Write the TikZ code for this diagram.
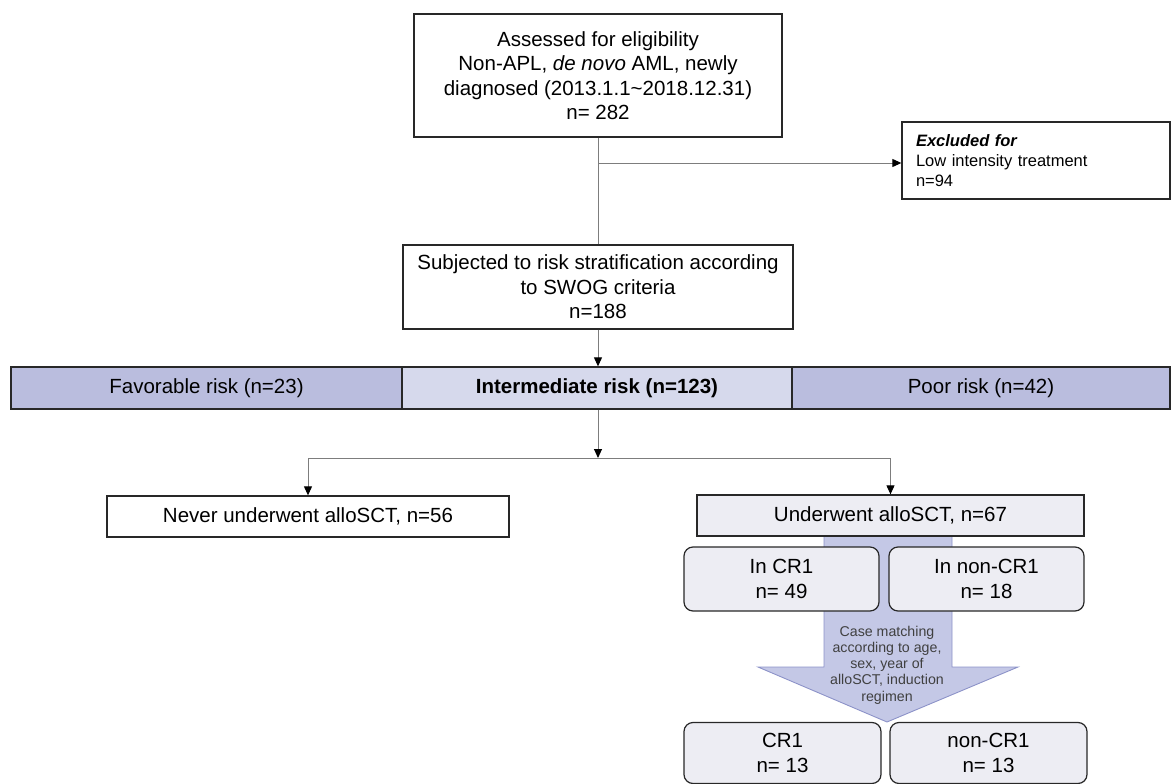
\documentclass[tikz,border=0pt]{standalone}
\usepackage{fontspec}
\setmainfont{Liberation Sans}
\usetikzlibrary{arrows.meta}
\definecolor{barfill}{RGB}{186,189,222}
\definecolor{midfill}{RGB}{214,217,236}
\definecolor{greyfill}{RGB}{237,237,243}
\definecolor{bigfill}{RGB}{196,200,230}
\definecolor{bigline}{RGB}{140,146,200}
\definecolor{connc}{RGB}{125,125,125}
\definecolor{edgec}{RGB}{40,40,40}
\begin{document}
\begin{tikzpicture}[x=1pt,y=-1pt,
  box/.style={draw=edgec, line width=1.3pt, fill=white, align=center, inner sep=0pt,
    font=\fontsize{20.5}{24.5}\selectfont},
  barseg/.style={box, fill=barfill, minimum height=42pt},
  roundbox/.style={box, fill=greyfill, rounded corners=9pt, line width=1.2pt},
  conn/.style={draw=connc, line width=1pt},
  tip/.style={-{Triangle[width=8pt,length=9pt,color=black]}}]
\useasboundingbox (0,0) rectangle (1171,784);

% big case-matching arrow (behind boxes)
\filldraw[fill=bigfill, draw=bigline, line width=0.9pt]
  (824,536) -- (952,536) -- (952,667) -- (1018,667) -- (887,722) -- (758,667) -- (824,667) -- cycle;
\node[align=center, text=black!75, font=\fontsize{14.2}{16.3}\selectfont] (match) at (887,665)
  {Case matching\\according to age,\\sex, year of\\alloSCT, induction\\regimen};

% boxes
\node[box, minimum width=368pt, minimum height=123pt] (top) at (598,75.5)
  {Assessed for eligibility\\Non-APL, \textit{de novo} AML, newly\\diagnosed (2013.1.1\textasciitilde 2018.12.31)\\n= 282};
\node[box, minimum width=268pt, minimum height=77pt, text width=240pt, align=left,
  font=\fontsize{16.5}{20}\selectfont] (excl) at (1036,160.5)
  {\textbf{\textit{Excluded for}}\\Low intensity treatment\\n=94};
\node[box, minimum width=390pt, minimum height=84pt] (strat) at (598,287)
  {Subjected to risk stratification according\\to SWOG criteria\\n=188};

\node[barseg, minimum width=391pt] (fav) at (206.5,388) {Favorable risk (n=23)};
\node[barseg, fill=midfill, minimum width=390pt] (mid) at (597,388) {\textbf{Intermediate risk (n=123)}};
\node[barseg, minimum width=378pt] (poor) at (981,388) {Poor risk (n=42)};

\node[box, minimum width=402pt, minimum height=41pt] (never) at (308,516.5) {Never underwent alloSCT, n=56};
\node[box, fill=greyfill, minimum width=387pt, minimum height=41pt] (under) at (890.5,515.5) {Underwent alloSCT, n=67};

\node[roundbox, minimum width=195pt, minimum height=64pt] (incr) at (781.5,579) {In CR1\\n= 49};
\node[roundbox, minimum width=195pt, minimum height=64pt] (innon) at (986.5,579) {In non-CR1\\n= 18};
\node[roundbox, minimum width=197pt, minimum height=61pt] (cr) at (782.5,753) {CR1\\n= 13};
\node[roundbox, minimum width=197pt, minimum height=61pt] (noncr) at (988.5,753) {non-CR1\\n= 13};

% connectors
\coordinate (br) at (598,163);
\coordinate (split) at (598,458);
\draw[conn] (top.south) -- (strat.north);
\draw[conn, tip] (br) -- (excl.west |- br);
\draw[conn, tip] (strat.south) -- (strat.south |- mid.north);
\draw[conn, tip] (strat.south |- mid.south) -- (split);
\draw[conn] (never.north |- split) -- (under.north |- split);
\draw[conn, tip] (never.north |- split) -- (never.north);
\draw[conn, tip] (under.north |- split) -- (under.north);
\end{tikzpicture}
\end{document}
